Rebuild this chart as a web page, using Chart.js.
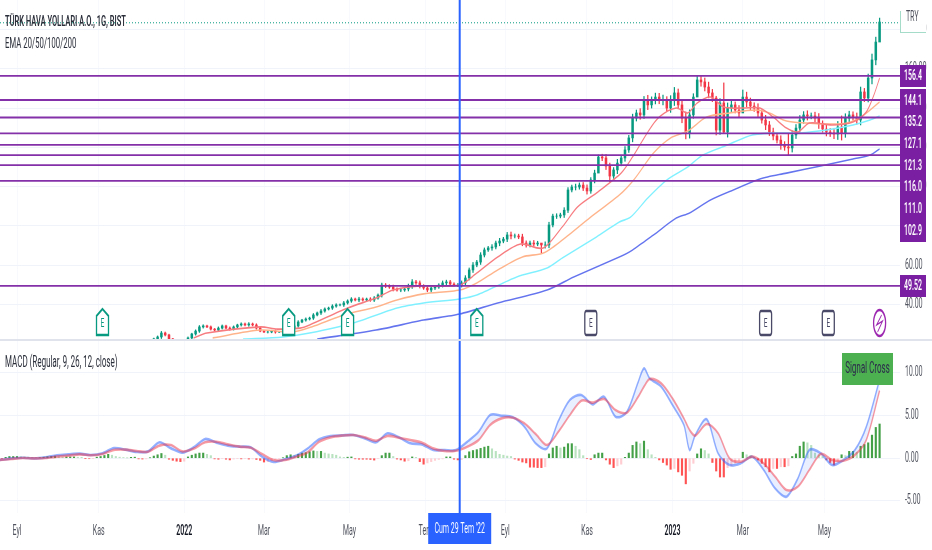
<!DOCTYPE html>
<html>
<head>
<meta charset="utf-8">
<script src="https://cdn.jsdelivr.net/npm/chart.js@4"></script>
<style>
  html, body { margin: 0; background: #fff; overflow: hidden; width: 932px; height: 550px; }
  canvas { position: absolute; left: 0; transform: scaleX(0.5); transform-origin: 0 0; }
  #priceChart { top: 0; }
  #macdChart { top: 341px; }
  #sep { position: absolute; left: 0; top: 339px; width: 932px; height: 2px; background: #e0e3eb; }
</style>
</head>
<body>
<canvas id="priceChart" width="1864" height="340"></canvas>
<div id="sep"></div>
<canvas id="macdChart" width="1864" height="209"></canvas>
<script>
// x axis is counted in trading days from the first "Eyl" tick
const monthBars = [0, 43, 88, 130, 175, 215, 257, 300, 345, 382, 425];
const monthLabels = ["Eyl", "Kas", "2022", "Mar", "May", "Tem", "Eyl", "Kas", "2023", "Mar", "May"];
const priceTicks = [40, 60, 80, 100, 120, 140, 160, 180];
const macdTicks = [-5, 0, 5, 10];
const levels = [156.4, 144.1, 135.2, 127.1, 121.3, 116.0, 111.0, 102.9, 49.52];
const levelTexts = ["156.4", "144.1", "135.2", "127.1", "121.3", "116.0", "111.0", "102.9", "49.52"];
const lastPrice = 183.4;
const crossBar = 233;

// one candle every 2 days starting at bar 70
const candleStart = 70;
const candleStep = 2;
const closes = [
  19.4,22.5,23.5,25.5,24.5,22.5,19.4,17.9,17.9,19.9,
  23,25,26.5,28.6,29.1,28.6,27.5,27,28,29.1,
  28,27.5,28.6,29.6,30.1,29.6,30.1,29.6,28,26.5,
  26,26,26.5,26,26,26.5,27,28,29.1,31.1,
  32.1,32.6,33.1,34.7,35.7,36.7,37.7,38.2,39.2,39.8,
  39.8,40.8,41.8,42.8,42.3,42.8,42.3,42.8,42.3,43.3,
  44.8,49.9,49.4,48.9,47.9,47.4,47.4,47.9,49.4,51.5,
  51,49.4,48.4,47.4,48.4,48.9,49.9,51,51.5,50.4,
  49.9,49.9,51,53.5,57.6,60.1,61.6,65.2,67.8,68.8,
  69.3,71.3,72.3,73.3,75.4,74.9,74.9,74.4,71.3,70.3,
  71.3,70.8,71.3,70.3,70.3,80.5,85,85,85.6,88,
  98.3,99.8,99.8,100.8,99.3,97.8,103.4,106.9,115.1,114.6,
  110.5,105.4,108.5,112,114.6,118.7,124.8,134.9,137.5,136.5,
  144.1,141.6,144.1,145.6,144.1,144.1,140,144.1,147.7,141.6,
  134.9,127.3,136.5,145.6,154.3,153.3,150.7,147.7,145.1,128.8,
  142.6,127.8,140,141.6,139,137.5,145.6,143.1,141,140,
  137.5,133.9,131.4,127.8,125.8,123.7,121.2,120.2,119.7,126.3,
  129.8,133.9,136.5,136,136,134.9,131.9,129.3,127.8,127.3,
  126.8,130.4,127.3,134.9,136.5,135.4,133.9,148.2,145.1,155.3,
  164.5,173.6,183.8
];
const wickSizes = [
  .3,.4,.5,.8,.5,.4,.3,.3,.3,.4,
  .5,.4,.6,.7,.6,.4,.5,.3,.6,.5,
  .4,.6,.5,.4,.6,.5,.7,.5,.6,.4,
  .3,.5,.4,.6,.3,.5,.4,.6,.5,.7,
  .4,.6,.5,.7,.5,.8,.6,.5,.7,.6,
  .5,.8,.6,.7,.5,.9,.6,.5,.7,.8,
  .6,1,.8,.7,1,.6,.9,.7,1,1.2,
  .8,1,.7,.9,1.1,.8,.7,1,.9,.8,
  .7,.8,1,1.2,1,1.3,.9,1.2,1,.8,
  1.2,1,1.4,.9,1.3,1.5,1,.9,1.4,1.1,
  1,1.3,.9,1.2,1.6,1.4,1,1.2,.9,1.3,
  1.2,1,1.5,1.1,1.3,1.6,1.2,1.5,2,1.4,
  1.8,1.5,1.2,1.9,1.4,1.7,1.3,2,1.5,2.2,
  1.8,2.4,1.6,2,1.9,2.5,1.7,2.2,2.8,2,
  2.4,1.8,2.6,1.7,1.5,2.2,2,2.5,1.8,2.4,
  2.2,1.8,2.6,2,1.5,2.3,1.8,2.5,2,1.7,
  2.2,1.6,2.4,1.8,2,1.5,2.2,1.7,1.4,2.1,
  1.8,2.3,1.7,2.1,1.5,1.9,2.3,1.6,2,1.8,
  2.4,2.8,1.7,2.2,1.9,1.6,2.1,2.5,1.8,2,
  3,2.5,1
];
const bigWickBars = [276, 306, 312, 352, 358, 368, 372, 382, 406, 434, 454];
const bigWickHighs = [71, 116.1, 112, 138, 156.3, 146, 152.8, 149.2, 127, 136, 185.8];
const bigWickLows = [66.2, 113, 102.4, 124.3, 150, 126.3, 127.3, 141, 116.1, 123.7, 180];

const ema20Bars = [93,100,128,137,149,154,174,189,198,212,233,242,253,265,277,287,295,305,318,324,332,338,347,353,358,365,372,382,391,398,405,411,417,429,440,447,451,454];
const ema20 = [23,25.5,28.6,27.5,28,29.6,38.2,43.3,47.4,49.4,49.9,56,64.2,70.8,68.8,79.5,89.6,96.8,106.9,115.1,127.8,135.4,140,137.5,142.6,145.6,140.5,140,140,135.4,129.8,127.8,132.4,131.4,132.9,138,146.6,155.3];
const ema50Bars = [103,128,145,155,172,189,200,214,233,242,253,266,277,287,302,317,325,335,344,353,363,375,389,396,405,416,426,437,445,454];
const ema50 = [23,27,26,28.6,34.7,38.7,42.3,45.4,47.4,51,57.6,64.2,66.2,72.8,84.5,95.7,103.9,117.1,124.8,128.3,135.4,137.5,139,137.5,133.4,132.4,131.9,132.4,136,143.1];
const ema100Bars = [119,140,154,177,200,214,233,242,263,279,287,305,317,323,332,342,353,361,374,387,400,412,426,440,449,454];
const ema100 = [22.4,23.5,25.5,30.6,38.2,40.8,42.8,44.8,54,58.6,63.7,74.4,82,84.5,94.2,103.4,110,116.1,121.2,126.3,127.3,127.3,128.8,131.4,133.9,136];
const ema200Bars = [158,189,214,233,253,279,293,317,324,335,347,354,365,377,391,405,423,440,449,454];
const ema200 = [22.4,27,32.1,35.2,40.8,47.4,54,64.2,67.8,75.4,84,86.6,93.2,98.3,103.9,106.9,110.5,114.1,116.1,119.2];

const macdBars = [-9,-3,3,9,15,21,27,33,39,45,51,57,63,69,75,81,87,93,99,105,111,117,123,129,135,141,147,153,
  159,165,171,177,183,189,195,201,207,213,219,225,231,237,243,249,255,261,267,273,279,285,291,297,303,309,315,
  321,327,330,333,339,345,351,354,357,363,369,375,381,387,393,399,405,411,417,423,429,435,441,447,454];
const macdLine = [-.21,-.02,.06,-.02,.1,.34,.45,.53,.37,.57,1.19,1,.73,.8,1.86,1.15,.65,1.27,2.25,1.82,1.47,1.35,1.27,.18,-.44,-.13,.3,1.15,
  2.21,2.6,2.67,2.71,2.32,1.86,2.91,2.44,1.74,1.62,.96,.96,.96,1.93,3.1,5.05,4.97,4.78,3.69,1.74,1.15,4.39,6.81,7.39,6.3,7.2,4.86,
  5.44,8.95,10.51,9.34,8.37,6.22,3.88,.96,2.71,4.55,.57,-.8,-.6,.18,-1.38,-3.53,-4.5,-2.35,.96,.57,-.8,-.21,.96,3.69,9.2];
const signalLine = [-.21,-.09,.02,-.02,.02,.18,.3,.45,.34,.49,.96,1,.84,.76,1.47,1.54,.8,1.12,1.86,1.93,1.62,1.35,1.23,.49,-.21,-.21,.18,.69,
  1.93,2.44,2.64,2.71,2.44,2.05,2.6,2.4,2.13,1.82,1.15,.84,.88,1.35,2.13,3.88,4.66,4.74,4.08,2.83,1.54,3.1,5.05,6.73,6.5,6.92,5.64,
  5.33,7.2,8.37,9.26,8.76,7,4.66,3.3,2.64,4,2.91,-.02,-.41,.18,-.6,-2.16,-3.73,-3.33,-1.38,.49,-.21,-.29,.37,2.13,7.9];

// histogram: one bar every 2 days starting at bar -8
const histStart = -8;
const histStep = 2;
const histValues = [
  -.05,.1,.2,.2,.2,.18,.15,.12,.08,.05,.05,.12,.18,.22,.25,.18,.15,.15,.15,.15,
  .12,.1,-.04,-.06,-.04,.12,.2,.32,.45,.35,.2,.12,.08,.03,.1,.12,-.08,-.1,-.08,.05,
  .25,.4,.55,.35,-.12,-.25,-.35,-.4,-.35,.15,.35,.5,.6,.6,.45,.3,-.08,-.12,-.05,-.12,
  -.2,-.1,-.05,-.08,-.06,-.1,-.08,-.15,-.25,-.45,-.4,-.3,-.15,-.05,.05,.3,.4,.35,.45,.6,
  .65,.75,.85,.8,.8,.6,.5,.45,.35,.15,.1,.12,.15,-.08,-.12,-.12,-.12,-.15,-.22,-.05,
  .3,.6,.6,.2,-.1,-.2,-.35,-.3,.15,.1,-.4,-.7,-.55,-.4,-.25,-.15,-.08,.15,.15,-.12,
  -.2,-.15,.3,.75,.9,1,1.15,1.3,1.4,1.1,.8,.45,.35,.25,.2,-.1,-.25,-.45,-.55,-1.05,
  -1.05,-1.1,-1.1,-1,.5,1.2,1.4,1.2,1.3,1.7,1.7,1.4,1,.3,-.05,-.15,.4,.6,.6,-.2,
  -.7,-1.1,-.9,-.7,.1,.6,1.5,1.9,1.7,2,1,.4,.1,-.2,-.5,-.8,-1.3,-1.2,-1.6,-2,
  -3,-1.5,-.6,.5,1.1,.9,.5,-.5,-1.5,-2.2,-2.2,-1.1,-.9,-.6,-.3,.7,.4,.3,.1,-.2,
  -.6,-1,-1.6,-1.2,-1.2,-1,-1,-.9,.2,.5,1.4,1.9,1.8,1.5,.6,.4,.2,-.2,-.5,-.8,
  -.4,.4,.3,.8,.8,.7,1.4,1.6,1.8,2.7,3.6,4
];

const earningsBars = [45, 143, 174, 242, 302, 394, 427];
const earningsKinds = ["past", "past", "past", "past", "next", "next", "next"];
const splitBar = 454;

const FONT = "Roboto, sans-serif";
const GREEN = "#089981";
const RED = "#f23645";
const PURPLE = "#7b1fa2";
const GRID = "#f0f3fa";
const xMin = -8.95;
const xMax = 464.74;

const pts = (bars, vals) => bars.map((b, i) => ({ x: b, y: vals[i] }));

const opens = closes.map((c, i) => (i ? closes[i - 1] : c));
const candleBars = closes.map((c, i) => candleStart + i * candleStep);
const candleColors = closes.map((c, i) => (c >= opens[i] ? GREEN : RED));
const bodies = candleBars.map((b, i) => ({ x: b, y: [opens[i], closes[i]] }));
const wicks = candleBars.map((b, i) => {
  const big = bigWickBars.indexOf(b);
  if (big >= 0) return { x: b, y: [bigWickLows[big], bigWickHighs[big]] };
  return { x: b, y: [Math.min(opens[i], closes[i]) - wickSizes[i], Math.max(opens[i], closes[i]) + wickSizes[i]] };
});

const emaLine = (data, color) => ({
  type: "line", data, borderColor: color, borderWidth: 1.6, pointRadius: 0, tension: 0.3, order: 2
});
const levelLine = (v) => ({
  type: "line", data: [{ x: xMin, y: v }, { x: xMax, y: v }],
  borderColor: "#8430a8", borderWidth: 1.8, pointRadius: 0, order: 0
});

const isYear = (c) => !!c.tick && /^20/.test(c.tick.label);

// panes have to line up exactly, so drop the room Chart.js keeps for edge labels
function noPadding(s) {
  s.paddingTop = s.paddingBottom = s.paddingLeft = s.paddingRight = 0;
}

function xScale(showLabels) {
  return {
    type: "linear", min: xMin, max: xMax, offset: false,
    grid: { color: GRID, drawTicks: false, offset: false },
    border: { display: false },
    afterBuildTicks: (s) => { s.ticks = monthBars.map((v) => ({ value: v })); },
    afterFit: (s) => { s.height = showLabels ? 37 : 0; noPadding(s); },
    ticks: {
      display: showLabels, autoSkip: false, maxRotation: 0, padding: 10,
      color: (c) => (isYear(c) ? "#131722" : "#50535e"),
      font: (c) => ({ family: FONT, size: 14, weight: isYear(c) ? "600" : "400" }),
      callback: (v) => monthLabels[monthBars.indexOf(v)]
    }
  };
}

function yScale(min, max, tickVals) {
  return {
    position: "right", min, max,
    grid: { color: GRID, drawTicks: false },
    border: { display: false },
    afterBuildTicks: (s) => { s.ticks = tickVals.map((v) => ({ value: v })); },
    afterFit: (s) => { s.width = 64; noPadding(s); },
    ticks: { padding: 10, color: "#50535e", font: { family: FONT, size: 14 }, callback: (v) => v.toFixed(2) }
  };
}

function text(ctx, str, x, y, font, color, align) {
  ctx.font = font;
  ctx.fillStyle = color;
  ctx.textAlign = align || "left";
  ctx.textBaseline = "middle";
  ctx.fillText(str, x, y);
}

function crosshair(chart) {
  const x = chart.scales.x.getPixelForValue(crossBar);
  const ctx = chart.ctx;
  ctx.save();
  ctx.strokeStyle = "#2962ff";
  ctx.lineWidth = 4;
  ctx.beginPath();
  ctx.moveTo(x, 0);
  ctx.lineTo(x, chart.chartArea.bottom);
  ctx.stroke();
  ctx.restore();
}

function drawEarnings(ctx, x, kind) {
  const color = kind === "past" ? GREEN : "#4a4a68";
  ctx.save();
  ctx.strokeStyle = color;
  ctx.fillStyle = "#fff";
  ctx.lineWidth = 2.6;
  ctx.beginPath();
  if (kind === "past") {
    ctx.moveTo(x, 309);
    ctx.lineTo(x + 12, 316);
    ctx.lineTo(x + 12, 335);
    ctx.lineTo(x - 12, 335);
    ctx.lineTo(x - 12, 316);
    ctx.closePath();
  } else {
    ctx.roundRect(x - 12, 311, 24, 24, 3);
  }
  ctx.fill();
  ctx.stroke();
  text(ctx, "E", x, 324, "13px " + FONT, color, "center");
  ctx.restore();
}

function drawSplit(ctx, x) {
  ctx.save();
  ctx.strokeStyle = "#9c27b0";
  ctx.fillStyle = "#fff";
  ctx.lineWidth = 2.6;
  ctx.beginPath();
  ctx.ellipse(x, 323, 12, 13, 0, 0, Math.PI * 2);
  ctx.fill();
  ctx.stroke();
  ctx.lineWidth = 1.4;
  ctx.beginPath();
  ctx.moveTo(x + 4, 315);
  ctx.lineTo(x - 6, 325);
  ctx.lineTo(x + 6, 321);
  ctx.lineTo(x - 4, 332);
  ctx.stroke();
  ctx.restore();
}

const priceOverlay = {
  id: "priceOverlay",
  afterDraw(chart) {
    const ctx = chart.ctx;
    const xs = chart.scales.x;
    crosshair(chart);
    ctx.save();
    text(ctx, "TÜRK HAVA YOLLARI A.O., 1G, BIST", 10, 22, "600 15px " + FONT, "#2a2e39");
    text(ctx, "EMA 20/50/100/200", 10, 44, "15.5px " + FONT, "#2a2e39");

    earningsBars.forEach((b, i) => drawEarnings(ctx, xs.getPixelForValue(b), earningsKinds[i]));
    drawSplit(ctx, xs.getPixelForValue(splitBar));

    // currency box
    ctx.fillStyle = "#fff";
    ctx.fillRect(1800, 11, 52, 22);
    ctx.fillStyle = "#a5dcc9";
    ctx.fillRect(1800, 11, 2, 22);
    ctx.fillRect(1800, 32, 52, 1);
    text(ctx, "TRY", 1812, 17, "14px " + FONT, "#50535e");

    // purple price tags, stacked where the levels sit too close for their labels
    ctx.fillStyle = PURPLE;
    ctx.fillRect(1800, 65, 52, 22);
    ctx.fillRect(1800, 89, 52, 153);
    ctx.fillRect(1800, 275, 52, 22);
    levelTexts.forEach((t, i) => {
      let y = 76;
      if (i > 0 && i < 8) y = 101 + (i - 1) * 21.7;
      if (i === 8) y = 286;
      text(ctx, t, 1826, y, "600 14px " + FONT, "#fff", "center");
    });
    ctx.restore();
  }
};

const macdOverlay = {
  id: "macdOverlay",
  afterDraw(chart) {
    const ctx = chart.ctx;
    crosshair(chart);
    ctx.save();
    text(ctx, "MACD (Regular, 9, 26, 12, close)", 10, 22, "16px " + FONT, "#2a2e39");

    ctx.fillStyle = "#4caf50";
    ctx.fillRect(1684, 12, 102, 32);
    text(ctx, "Signal Cross", 1735, 28, "16px " + FONT, "#2b2b4b", "center");

    const cx = chart.scales.x.getPixelForValue(crossBar);
    ctx.fillStyle = "#2962ff";
    ctx.fillRect(cx - 63, 172, 126, 31);
    text(ctx, "Cum 29 Tem '22", cx, 188, "14px " + FONT, "#fff", "center");
    ctx.restore();
  }
};

new Chart(document.getElementById("priceChart"), {
  type: "bar",
  data: {
    datasets: [
      ...levels.map(levelLine),
      {
        type: "line", data: [{ x: xMin, y: lastPrice }, { x: xMax, y: lastPrice }],
        borderColor: GREEN, borderWidth: 1, borderDash: [2, 4], pointRadius: 0, order: 1
      },
      emaLine(pts(ema20Bars, ema20), "#f77c80"),
      emaLine(pts(ema50Bars, ema50), "#ffb38a"),
      emaLine(pts(ema100Bars, ema100), "#7ff0ff"),
      emaLine(pts(ema200Bars, ema200), "#6474ee"),
      { data: bodies, backgroundColor: candleColors, barThickness: 4.4, grouped: false, order: 3 },
      { data: wicks, backgroundColor: candleColors, barThickness: 1.8, grouped: false, order: 4 }
    ]
  },
  options: {
    responsive: false,
    animation: false,
    devicePixelRatio: 1,
    layout: { padding: 0, autoPadding: false },
    plugins: { legend: { display: false }, tooltip: { enabled: false } },
    scales: { x: xScale(false), y: yScale(21.94, 195, priceTicks) }
  },
  plugins: [priceOverlay]
});

const histBars = histValues.map((v, i) => histStart + i * histStep);
const histColors = histValues.map((v, i) => {
  const prev = i ? histValues[i - 1] : 0;
  if (v >= 0) return v >= prev ? "#43a047" : "#b9e2c0";
  return v <= prev ? "#ff5252" : "#ffcdd2";
});

new Chart(document.getElementById("macdChart"), {
  type: "bar",
  data: {
    datasets: [
      {
        type: "line", data: pts(macdBars, macdLine), borderColor: "rgba(41,98,255,.5)", borderWidth: 2.6,
        pointRadius: 0, tension: 0.3, order: 1,
        fill: { target: 1, above: "rgba(41,98,255,.1)", below: "rgba(41,98,255,.1)" }
      },
      {
        type: "line", data: pts(macdBars, signalLine), borderColor: "rgba(242,54,69,.5)", borderWidth: 2.6,
        pointRadius: 0, tension: 0.3, order: 0
      },
      { data: pts(histBars, histValues), backgroundColor: histColors, barThickness: 3.6, grouped: false, order: 2 }
    ]
  },
  options: {
    responsive: false,
    animation: false,
    devicePixelRatio: 1,
    layout: { padding: 0, autoPadding: false },
    plugins: { legend: { display: false }, tooltip: { enabled: false } },
    scales: { x: xScale(true), y: yScale(-6.41, 13.71, macdTicks) }
  },
  plugins: [macdOverlay]
});
</script>
</body>
</html>
